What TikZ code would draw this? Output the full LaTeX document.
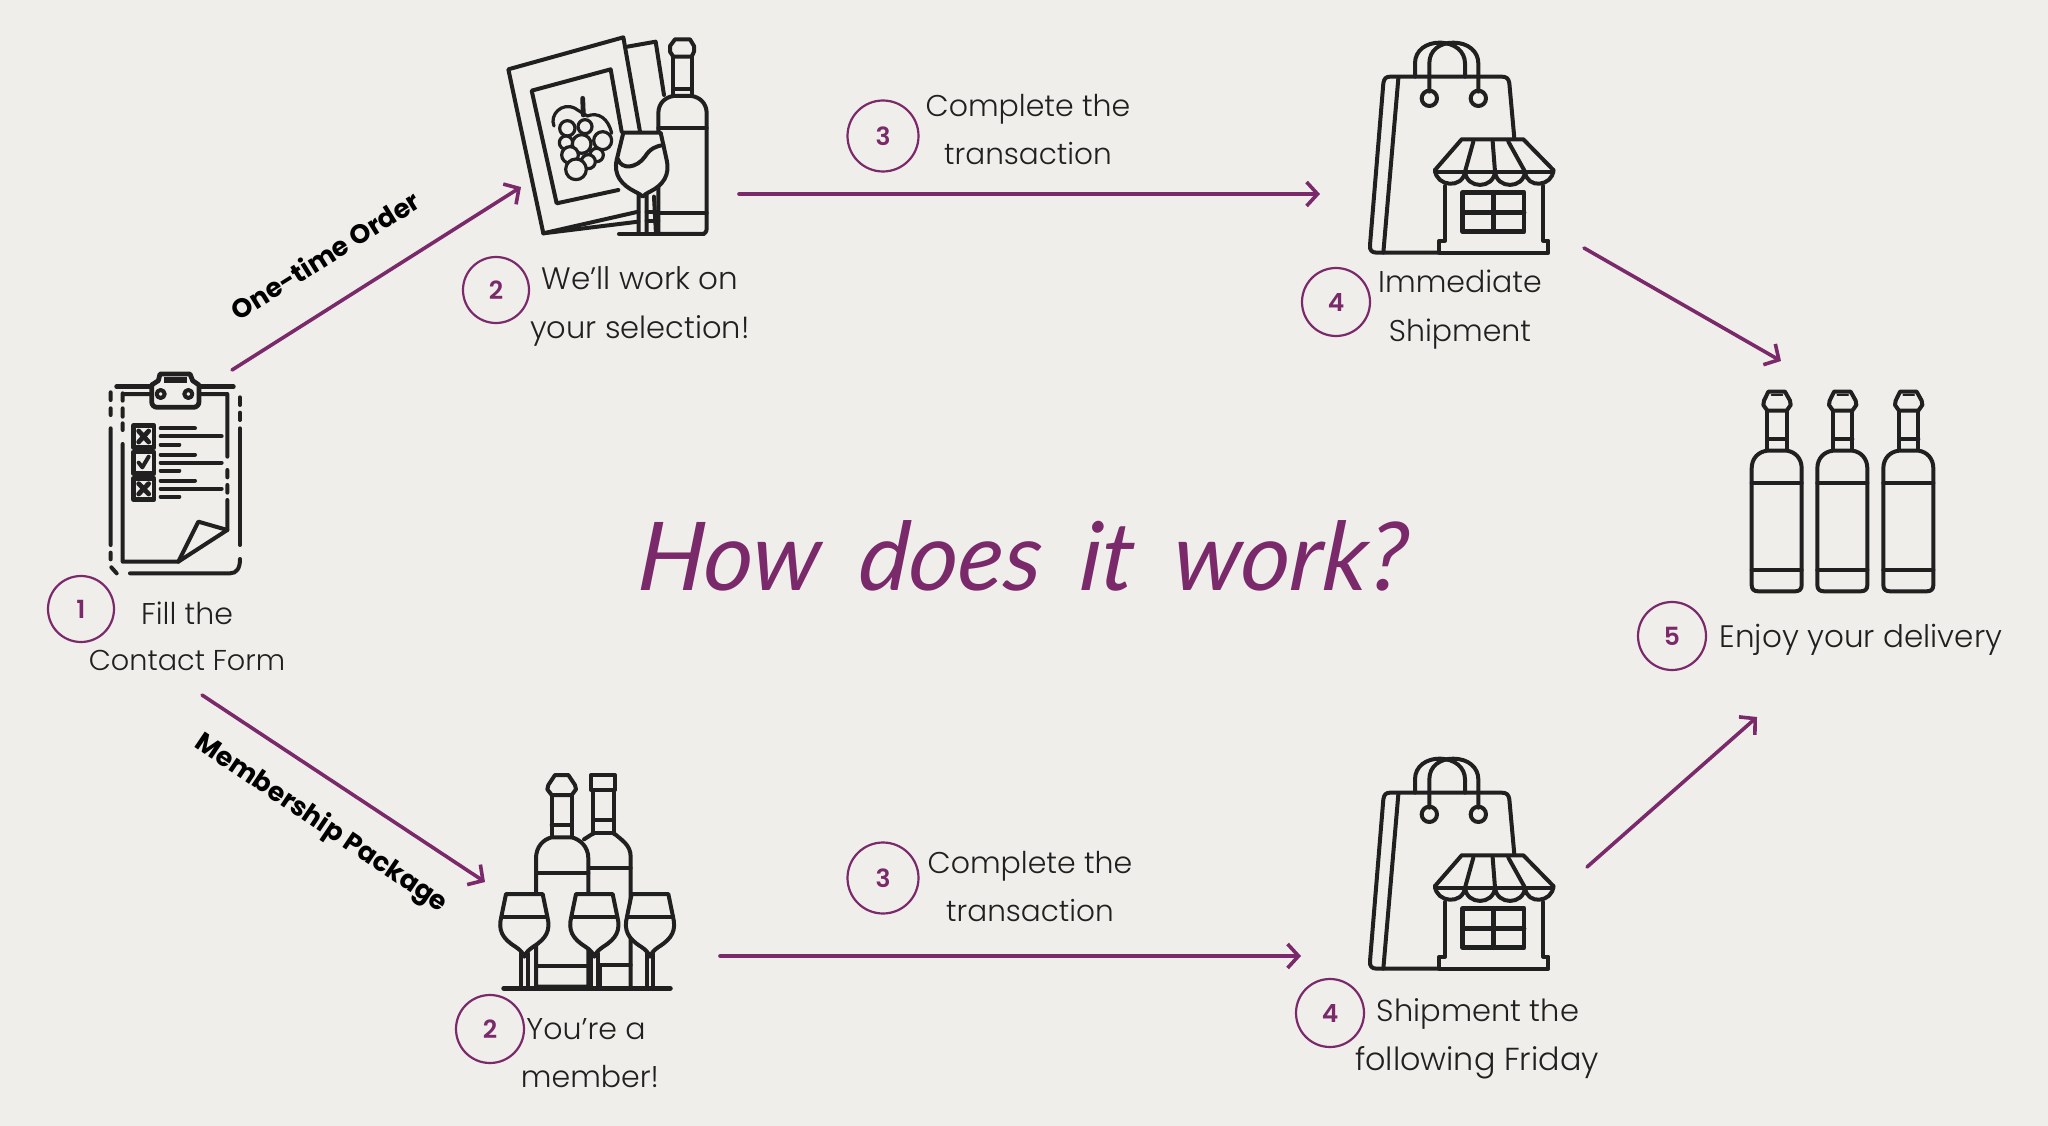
\documentclass[tikz,border=0pt]{standalone}
\usepackage{fontspec}
\usetikzlibrary{arrows.meta}
\defaultfontfeatures{}
\setmainfont{Poppins Light}
\newfontfamily\boldf{Poppins Bold}
\newfontfamily\numf{Poppins SemiBold}
\newfontfamily\titlef[FakeStretch=1.0,WordSpace=1.7,FakeSlant=0.08]{Lato Italic}
\definecolor{bgc}{HTML}{F0EEEA}
\definecolor{ink}{HTML}{202020}
\definecolor{plum}{HTML}{7A2A6A}
\tikzset{
 icon/.style={draw=ink,line width=4pt,line cap=round,line join=round},
 thinicon/.style={icon,line width=3.2pt},
 thickicon/.style={icon,line width=4.8pt},
 arrowline/.style={draw=plum,line width=3.6pt,line cap=round,-{Straight Barb[length=11pt,width=24pt,line width=3.6pt]}},
 numc/.style={circle,draw=plum,line width=2.2pt,minimum size=66pt,inner sep=0pt,text=plum,font=\numf\fontsize{25}{25}\selectfont},
 lab/.style={anchor=base,inner sep=0pt,text=ink,font=\fontsize{30}{30}\selectfont},
 tilted/.style={inner sep=0pt,text=black,font=\boldf\fontsize{26.5}{26.5}\selectfont},
 zunits/.style={x=0.33333pt,y=-0.33333pt}
}
\newcommand\lsize[1]{\fontsize{#1}{#1}\selectfont}
\newcommand\wshop[2]{%
\begin{scope}[shift={(#1,#2)},zunits]
 \draw[icon] (195,140)--(195,100) .. controls (195,60) and (230,38) .. (268,38) .. controls (315,38) and (345,65) .. (345,100)--(345,140);
 \draw[icon] (238,185)--(238,100) .. controls (238,60) and (270,38) .. (310,38) .. controls (355,38) and (385,65) .. (385,100)--(385,185);
 \draw[icon] (238,205) circle[radius=23];
 \draw[icon] (385,205) circle[radius=23];
 \draw[icon] (265,668)--(80,668) .. controls (65,668) and (58,660) .. (60,645)--(100,160) .. controls (102,146) and (108,140) .. (120,140)--(455,140) .. controls (470,140) and (476,146) .. (478,160)--(493,325);
 \draw[icon] (145,145)--(100,668);
 \draw[icon] (335,328)--(520,328)--(610,420) (335,328)--(255,420);
 \draw[icon] (370,335)--(345,425) (428,335)--(435,425) (475,335)--(525,425);
 \draw[icon] (255,425)--(610,425);
 \draw[icon] (255,420) .. controls (258,470) and (338,478) .. (345,425) .. controls (350,478) and (430,478) .. (435,425) .. controls (440,478) and (520,478) .. (525,425) .. controls (530,478) and (608,470) .. (610,420);
 \draw[icon] (285,468)--(285,632)--(268,632)--(268,668)--(595,668)--(595,632)--(580,632)--(580,468);
 \draw[thickicon] (338,487) rectangle (522,605);
 \draw[thickicon] (430,487)--(430,605) (338,548)--(522,548);
\end{scope}}
\newcommand\wbottle[1]{%
\begin{scope}[shift={(#1,0)}]
 \draw[icon] (115,35)--(165,35)--(180,62)--(182,75)--(170,92)--(112,92)--(100,75)--(102,62)--cycle;
 \draw[icon,line width=2pt] (125,46)--(157,46);
 \draw[icon] (112,92)--(112,210) (170,92)--(170,210) (112,178)--(170,178);
 \draw[icon] (112,212) .. controls (85,215) and (65,235) .. (65,265)--(65,615) .. controls (65,628) and (72,634) .. (85,634)--(195,634) .. controls (208,634) and (215,628) .. (215,615)--(215,265) .. controls (215,235) and (195,215) .. (170,212)--cycle;
 \draw[icon] (65,310)--(215,310) (65,570)--(215,570);
\end{scope}}
\newcommand\wglass[1]{%
\begin{scope}[shift={(#1,0)}]
 \fill[bgc] (92,590) rectangle (114,680);
 \draw[icon,fill=bgc] (48,402)--(158,402)--(172,470) .. controls (182,510) and (170,535) .. (130,560) .. controls (115,570) and (108,578) .. (103,590) .. controls (98,578) and (91,570) .. (76,560) .. controls (36,535) and (24,510) .. (34,470)--cycle;
 \draw[icon] (38,470)--(168,470);
 \draw[icon] (93,580)--(93,680) (113,580)--(113,680);
\end{scope}}
\begin{document}
\begin{tikzpicture}[x=1pt,y=-1pt]
\useasboundingbox (0,0) rectangle (2048,1126);
\fill[bgc] (0,0) rectangle (2048,1126);

% clipboard
\begin{scope}[shift={(90,360)},zunits]
 \draw[thickicon] (80,80)--(185,80) (330,80)--(430,80);
 \draw[thickicon] (185,125)--(185,75)--(205,62)--(210,42)--(300,42)--(308,62)--(327,75)--(327,125) .. controls (327,135) and (320,142) .. (310,142)--(202,142) .. controls (192,142) and (185,135) .. (185,125);
 \fill[ink] (222,50) rectangle (290,68);
 \draw[icon] (212,102) circle[radius=12] (295,102) circle[radius=12];
 \draw[icon] (98,100)--(98,122) (98,145)--(98,170) (98,190)--(98,210) (98,102)--(185,102) (330,102)--(412,102)--(412,290) (412,330)--(412,352) (412,375)--(412,398) (412,420)--(412,510)--(265,605)--(98,605)--(98,252);
 \draw[icon] (265,605)--(325,485)--(412,510);
 \draw[icon] (62,97)--(62,120) (62,145)--(62,165) (62,205)--(62,555) (62,578)--(62,598) (64,622)--(80,640);
 \draw[icon] (120,640)--(420,640) .. controls (440,640) and (450,625) .. (450,597);
 \draw[icon] (450,112)--(450,135) (450,158)--(450,180) (450,205)--(450,555);
 \draw[thickicon] (130,197) rectangle (192,262) (130,276) rectangle (192,340) (130,355) rectangle (192,418);
 \draw[thickicon] (146,213)--(176,246) (176,213)--(146,246) (146,371)--(176,402) (176,371)--(146,402);
 \draw[icon] (146,308)--(157,322)--(176,290);
 \draw[icon] (212,205)--(315,205) (212,229)--(395,229) (212,254)--(268,254) (212,284)--(315,284) (212,308)--(395,308) (212,332)--(268,332) (212,362)--(315,362) (212,386)--(395,386) (212,410)--(268,410);
\end{scope}

% wine card, grapes, glass, bottle
\begin{scope}[shift={(490,20)},zunits]
 \draw[icon] (412,80)--(497,65)--(522,225);
 \draw[icon] (160,640)--(445,605);
 \draw[icon] (450,335)--(400,52)--(55,148)--(160,640)--(445,575);
 \draw[icon] (395,335)--(362,148)--(125,212)--(200,550)--(385,510);
 \draw[thickicon] (278,235)--(280,285);
 \draw[thinicon] (192,318) .. controls (178,285) and (215,245) .. (255,265) .. controls (265,272) and (280,280) .. (292,288) .. controls (325,275) and (355,295) .. (365,340);
 \draw[thinicon,fill=bgc] (232,325) circle[radius=23];
 \draw[thinicon,fill=bgc] (285,320) circle[radius=21];
 \draw[thinicon,fill=bgc] (338,362) circle[radius=27];
 \draw[thinicon,fill=bgc] (228,368) circle[radius=20];
 \draw[thinicon,fill=bgc] (320,405) circle[radius=20];
 \draw[thinicon,fill=bgc] (275,372) circle[radius=28];
 \draw[thinicon,fill=bgc] (240,405) circle[radius=25];
 \draw[thinicon,fill=bgc] (295,425) circle[radius=21];
 \draw[thinicon,fill=bgc] (258,448) circle[radius=31];
 \draw[icon] (550,225)--(550,110) (605,225)--(605,110) (550,208)--(605,208);
 \draw[icon] (555,58)--(600,58)--(612,78)--(612,95)--(605,110)--(550,110)--(540,95)--(540,78)--cycle;
 \draw[icon,fill=bgc] (505,642)--(505,280) .. controls (505,250) and (525,232) .. (550,228)--(605,228) .. controls (630,232) and (650,250) .. (650,280)--(650,625) .. controls (650,636) and (645,642) .. (635,642)--cycle;
 \draw[icon] (505,325)--(650,325) (505,580)--(650,580);
 \draw[icon,fill=bgc] (400,338)--(512,338)--(530,420) .. controls (540,465) and (520,495) .. (480,515) .. controls (470,520) and (462,525) .. (458,530) .. controls (454,525) and (445,520) .. (435,515) .. controls (395,495) and (370,465) .. (380,420)--cycle;
 \draw[icon] (384,418) .. controls (395,450) and (440,445) .. (465,410) .. controls (480,385) and (500,378) .. (520,375);
 \draw[icon] (446,525)--(446,642) (470,525)--(470,642) (492,530)--(498,642);
 \draw[icon] (470,575)--(505,575) (470,602)--(505,602);
 \draw[thickicon] (388,642)--(640,642);
\end{scope}

% two shops
\wshop{1350}{30}
\wshop{1350}{746}

% three bottles
\begin{scope}[shift={(1730,380)},zunits]
 \wbottle{0}
 \wbottle{197}
 \wbottle{395}
\end{scope}

% bottles and glasses
\begin{scope}[shift={(490,760)},zunits]
 \draw[icon] (310,90)--(310,222) (372,90)--(372,222) (310,180)--(372,180) (310,218)--(372,218);
 \draw[icon] (303,45)--(375,45)--(375,90)--(303,90)--cycle;
 \draw[icon] (282,238)--(310,220) (372,220) .. controls (395,240) and (422,255) .. (422,290)--(422,680);
 \draw[icon] (295,325)--(422,325) (330,615)--(422,615) (330,680)--(330,620);
 \draw[icon] (195,45)--(235,45)--(255,75)--(258,88)--(245,105)--(185,105)--(172,88)--(175,75)--cycle;
 \draw[icon] (185,105)--(185,230) (245,105)--(245,230) (185,195)--(245,195);
 \draw[icon,fill=bgc] (185,232) .. controls (160,238) and (138,260) .. (138,295)--(138,680)--(295,680)--(295,295) .. controls (295,260) and (270,238) .. (245,232)--cycle;
 \draw[icon] (138,340)--(295,340) (138,618)--(295,618);
 \wglass{0}
 \wglass{210}
 \wglass{377}
 \draw[thickicon,line width=5.5pt] (42,685)--(540,685);
\end{scope}

% anchors for the connectors
\coordinate (a1) at (232,370); \coordinate (a2) at (521,187);
\coordinate (b1) at (202,695); \coordinate (b2) at (485,882);
\coordinate (c1) at (739,194); \coordinate (c2) at (1320,194);
\coordinate (d1) at (720,956); \coordinate (d2) at (1301,956);
\coordinate (e1) at (1584,248); \coordinate (e2) at (1781,361);
\coordinate (f1) at (1587,867); \coordinate (f2) at (1757,717);
\draw[arrowline] (a1)--(a2);
\draw[arrowline] (b1)--(b2);
\draw[arrowline] (c1)--(c2);
\draw[arrowline] (d1)--(d2);
\draw[arrowline] (e1)--(e2);
\draw[arrowline] (f1)--(f2);

% numbers
\node[numc] (n1) at (81,609) {1};
\node[numc] (n2t) at (496,290) {2};
\node[numc,minimum size=71pt] (n3t) at (883,136) {3};
\node[numc,minimum size=68pt] (n4t) at (1336,302) {4};
\node[numc,minimum size=68pt] (n5) at (1672,636) {5};
\node[numc,minimum size=68pt] (n2b) at (490,1029) {2};
\node[numc,minimum size=71pt] (n3b) at (883,878) {3};
\node[numc,minimum size=68pt] (n4b) at (1330,1013) {4};

% labels
\node[lab] (t1a) at (187,624) {Fill the};
\node[lab] (t1b) at (187,670) {\lsize{28.7}Contact Form};
\node[lab] (t2a) at (640,289) {\lsize{31}We'll work on};
\node[lab] (t2b) at (640,338) {\lsize{30.5}your selection!};
\node[lab] (t3a) at (1028,117) {Complete the};
\node[lab] (t3b) at (1028,165) {\lsize{29.5}transaction};
\node[lab] (t4a) at (1460,292) {Immediate};
\node[lab] (t4b) at (1460,341) {Shipment};
\node[lab] (t5) at (1861,647) {\lsize{31}Enjoy your delivery};
\node[lab] (t6a) at (1030,873) {Complete the};
\node[lab] (t6b) at (1030,921) {\lsize{29.5}transaction};
\node[lab] (t7a) at (586,1039) {You're a};
\node[lab] (t7b) at (590,1087) {member!};
\node[lab] (t8a) at (1478,1021) {\lsize{30.5}Shipment the};
\node[lab] (t8b) at (1477,1070) {\lsize{31.8}following Friday};

\node[tilted,rotate=32] (one) at (325,255) {One-time Order};
\node[tilted,rotate=-34] (mem) at (321,824) {Membership Package};

\node[anchor=base,inner sep=0pt,text=plum,font=\titlef\fontsize{95}{95}\selectfont] (title) at (1021,590) {How does it work?};
\end{tikzpicture}
\end{document}
